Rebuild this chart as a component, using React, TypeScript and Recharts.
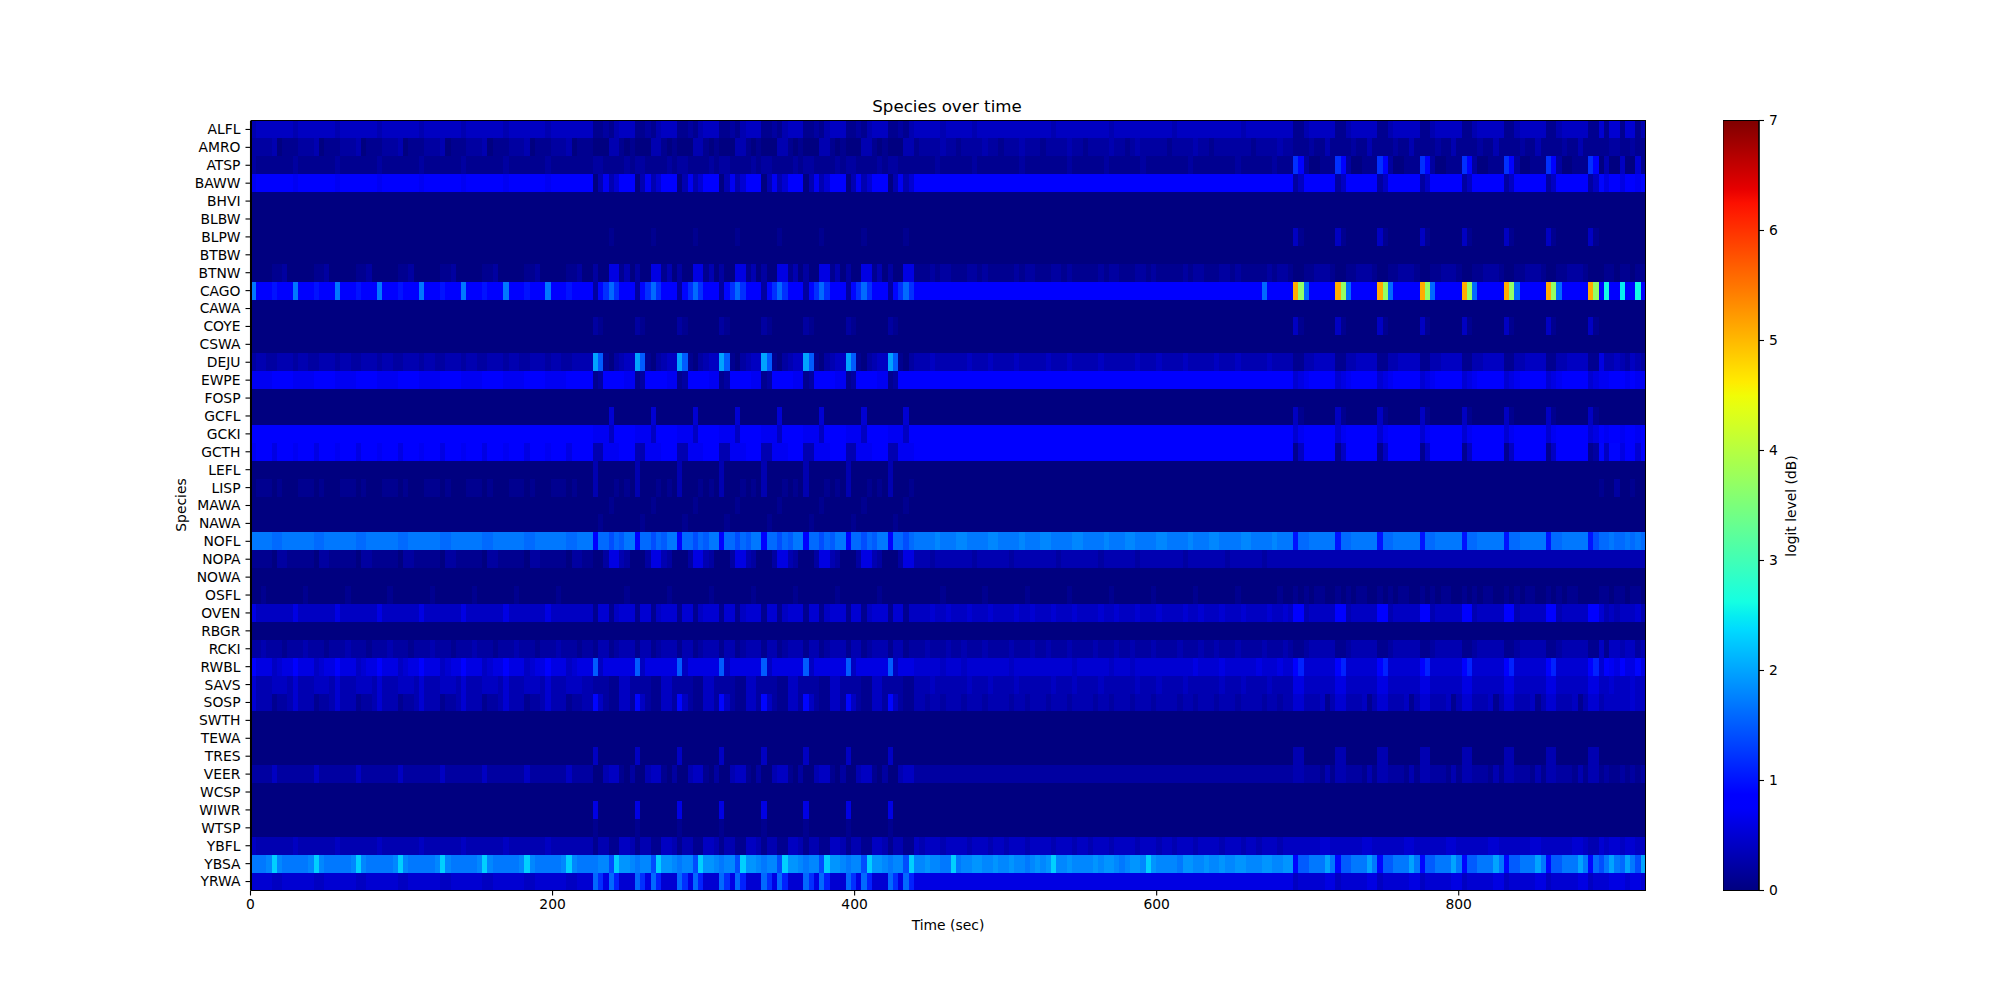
import React from "react";
import {
  BarChart,
  Bar,
  Scatter,
  ScatterChart,
  XAxis,
  YAxis,
} from "recharts";

const SPECIES = [
  "ALFL", "AMRO", "ATSP", "BAWW", "BHVI", "BLBW", "BLPW", "BTBW", "BTNW", "CAGO", "CAWA",
  "COYE", "CSWA", "DEJU", "EWPE", "FOSP", "GCFL", "GCKI", "GCTH", "LEFL", "LISP", "MAWA",
  "NAWA", "NOFL", "NOPA", "NOWA", "OSFL", "OVEN", "RBGR", "RCKI", "RWBL", "SAVS", "SOSP",
  "SWTH", "TEWA", "TRES", "VEER", "WCSP", "WIWR", "WTSP", "YBFL", "YBSA", "YRWA",
];

const TIME_TICKS = [0, 200, 400, 600, 800];
const LEVEL_TICKS = [0, 1, 2, 3, 4, 5, 6, 7];
const LAST_TIME = 924;
const COLUMN_COUNT = 265;

// one character per time column, position in LEVEL_CODES x 0.1 = logit level (dB)
const LEVEL_CODES = "0123456789abcdefghijklmnopqrstuvwxyzABCDEFGHIJKLMNOPQRS";

const QUIET = "00000000 00000000 00000000 00000000 00000000 00000000 00000000 00000000 0 00000000 00000000 00000000 00000000 00000000 00000000 00000000 00000 00000000 00000000 00000000 00000000 00000000 00000000 00000000 00000000 00000000 00000000 00000000 00000000 00000000 00000000 00000000 00000000 00000000000";

const ALFL = "34444444 34444444 34444444 34444444 34444444 34444444 34444444 34444444 4 11213444 11213444 11213444 11213444 11213444 11213444 11213444 11213 44444344 44434444 44444444 44344444 44444344 44444444 43444444 44444434 44444444 11344444 11344444 11344444 11344444 11344444 11344444 11344444 11515515513";
const AMRO = "22223011 12223011 12223011 12223011 12223011 12223011 12223011 12223011 1 00033101 00033101 00033101 00033101 00033101 00033101 00033101 00033 12222322 12222322 12223222 12222322 12222322 12322222 12222322 12222222 12222322 11121131 11121131 11121131 11121131 11121131 11121131 11121131 11112211211";
const ATSP = "21111111 21111111 21111111 21111111 21111111 21111111 21111111 21111111 1 22111121 22111121 22111121 22111121 22111121 22111121 22111121 22111 11112111 11121111 11112111 11111211 11112111 11121111 11112111 11111211 11112111 c8200111 c8200111 c8200111 c8200111 c8200111 c8200111 c8200111 c8030040051";
const BAWW = "78888888 78888888 78888888 78888888 78888888 78888888 78888888 78888888 8 03735888 03735888 03735888 03735888 03735888 03735888 03735888 03735 88888888 88888888 88888888 88888888 88888888 88888888 88888888 88888888 88888888 24888888 24888888 24888888 24888888 24888888 24888888 24888888 24968868879";
const BHVI = QUIET;
const BLBW = QUIET;
const BLPW = "00000000 00000000 00000000 00000000 00000000 00000000 00000000 00000000 0 00010000 00010000 00010000 00010000 00010000 00010000 00010000 00010 00000000 00000000 00000000 00000000 00000000 00000000 00000000 00000000 00000000 41000000 41000000 41000000 41000000 41000000 41000000 41000000 41000000000";
const BTBW = QUIET;
const BTNW = "00001120 00001120 00001120 00001120 00001120 00001120 00001120 00001120 0 20066130 20066130 20066130 20066130 20066130 20066130 20066130 20066 11121221 11221211 11121221 11221211 11121221 11221211 11121221 11221211 11121221 00112221 00112221 00112221 00112221 00112221 00112221 00112221 00011011011";
const CAGO = "h888a888 h888a888 h888a888 h888a888 h888a888 h888a888 h888a888 h888a888 8 29cgc888 29cgc888 29cgc888 29cgc888 29cgc888 29cgc888 29cgc888 29cgc 88888888 88888888 88888888 88888888 88888888 88888888 88888888 88888888 88g88888 PBg88888 PBg88888 PBg88888 PBg88888 PBg88888 PBg88888 PBg88888 PB8q88p88q8";
const CAWA = QUIET;
const COYE = "00000000 00000000 00000000 00000000 00000000 00000000 00000000 00000000 0 21000000 21000000 21000000 21000000 21000000 21000000 21000000 21000 00000000 00000000 00000000 00000000 00000000 00000000 00000000 00000000 00000000 41000000 41000000 41000000 41000000 41000000 41000000 41000000 41000000000";
const CSWA = QUIET;
const DEJU = "23322333 23322333 23322333 23322333 23322333 23322333 23322333 23322333 3 kf102344 kf102344 kf102344 kf102344 kf102344 kf102344 kf102344 kf102 33343333 33433343 33343333 34333433 33343333 33433343 33343333 34333433 33343333 11334444 11334444 11334444 11334444 11334444 11334444 11334444 11633432432";
const EWPE = "77778888 77778888 77778888 77778888 77778888 77778888 77778888 77778888 8 12888877 12888877 12888877 12888877 12888877 12888877 12888877 12888 88888888 88888888 88888888 88888888 88888888 88888888 88888888 88888888 88888888 56788888 56788888 56788888 56788888 56788888 56788888 56788888 56778887877";
const FOSP = QUIET;
const GCFL = "00000000 00000000 00000000 00000000 00000000 00000000 00000000 00000000 0 00050000 00050000 00050000 00050000 00050000 00050000 00050000 00050 00000000 00000000 00000000 00000000 00000000 00000000 00000000 00000000 00000000 41000000 41000000 41000000 41000000 41000000 41000000 41000000 41000000000";
const GCKI = "88888888 88888888 88888888 88888888 88888888 88888888 88888888 88888888 8 77748888 77748888 77748888 77748888 77748888 77748888 77748888 77748 88888888 88888888 88888888 88888888 88888888 88888888 88888888 88888888 88888888 57888888 57888888 57888888 57888888 57888888 57888888 57888888 56878878878";
const GCTH = "78886888 78886888 78886888 78886888 78886888 78886888 78886888 78886888 8 33777888 33777888 33777888 33777888 33777888 33777888 33777888 33777 88888888 88888888 88888888 88888888 88888888 88888888 88888888 88888888 88888888 14888888 14888888 14888888 14888888 14888888 14888888 14888888 12949968858";
const LEFL = "00000000 00000000 00000000 00000000 00000000 00000000 00000000 00000000 0 30000000 30000000 30000000 30000000 30000000 30000000 30000000 30000 00000000 00000000 00000000 00000000 00000000 00000000 00000000 00000000 00000000 00000000 00000000 00000000 00000000 00000000 00000000 00000000 00000000000";
const LISP = "01110100 01110100 01110100 01110100 01110100 01110100 01110100 01110100 0 30001010 30001010 30001010 30001010 30001010 30001010 30001010 30001 00000000 00000000 00000000 00000000 00000000 00000000 00000000 00000000 00000000 00000000 00000000 00000000 00000000 00000000 00000000 00000000 00100200100";
const MAWA = "00000000 00000000 00000000 00000000 00000000 00000000 00000000 00000000 0 00010000 00010000 00010000 00010000 00010000 00010000 00010000 00010 00000000 00000000 00000000 00000000 00000000 00000000 00000000 00000000 00000000 00000000 00000000 00000000 00000000 00000000 00000000 00000000 00000000000";
const NAWA = "00000000 00000000 00000000 00000000 00000000 00000000 00000000 00000000 0 01000000 01000000 01000000 01000000 01000000 01000000 01000000 01000 00000000 00000000 00000000 00000000 00000000 00000000 00000000 00000000 00000000 00000000 00000000 00000000 00000000 00000000 00000000 00000000 00000000000";
const NOFL = "hhhhgghh hhhhgghh hhhhgghh hhhhgghh hhhhgghh hhhhgghh hhhhgghh hhhhgghh h 8ggegfhh 8ggegfhh 8ggegfhh 8ggegfhh 8ggegfhh 8ggegfhh 8ggegfhh 8ggeg hhhhihhh iihhhhii hhhhihhh iihhhhii hhhhihhh iihhhhii hhhhihhh iihhhhii hhhhihhh agghhhhh agghhhhh agghhhhh agghhhhh agghhhhh agghhhhh agghhhhh aegghgghghg";
const NOPA = "11110221 11110221 11110221 11110221 11110221 11110221 11110221 11110221 1 00266320 00266320 00266320 00266320 00266320 00266320 00266320 00266 33323333 33323333 33233333 33323333 33323333 33233333 33323333 33323333 33233333 33333333 33333333 33333333 33333333 33333333 33333333 33333333 33333333333";
const NOWA = QUIET;
const OSFL = "00100000 00100000 00100000 00100000 00100000 00100000 00100000 00100000 0 00000010 00000010 00000010 00000010 00000010 00000010 00000010 00000 00000100 00000100 00000100 00000100 00000100 00000100 00000100 00000100 00000100 10101100 10101100 10101100 10101100 10101100 10101100 10101100 00110110110";
const OVEN = "64444444 64444444 64444444 64444444 64444444 64444444 64444444 64444444 4 15514555 15514555 15514555 15514555 15514555 15514555 15514555 15514 44454454 44544454 44454454 44544454 44454454 44544454 44454454 44544454 44454454 88344444 88344444 88344444 88344444 88344444 88344444 88344444 88534344453";
const RBGR = QUIET;
const RCKI = "22322212 22322212 22322212 22322212 22322212 22322212 22322212 22322212 2 13312333 13312333 13312333 13312333 13312333 13312333 13312333 13312 22322232 23222322 22322232 23222322 22322232 23222322 22322232 23222322 22322232 11233333 11233333 11233333 11233333 11233333 11233333 11233333 11414434423";
const RWBL = "86664566 86664566 86664566 86664566 86664566 86664566 86664566 86664566 6 f4666666 f4666666 f4666666 f4666666 f4666666 f4666666 f4666666 f4666 55555455 54555555 55455555 55555545 55555455 54555555 55555655 55655555 56555655 8b555555 8b555555 8b555555 8b555555 8b555555 8b555555 8b555555 8b587686696";
const SAVS = "53334443 53334443 53334443 53334443 53334443 53334443 53334443 53334443 3 22211442 22211442 22211442 22211442 22211442 22211442 22211442 22211 33343333 33433343 33343333 33433343 33343333 33433343 33343333 33433343 33343333 66444444 66444444 66444444 66444444 66444444 66444444 66444444 66445444544";
const SOSP = "53331223 53331223 53331223 53331223 53331223 53331223 53331223 53331223 3 94211442 94211442 94211442 94211442 94211442 94211442 94211442 94211 33233233 32333233 33233233 32333233 33233233 32333233 33233233 32333233 33233233 55333413 55333413 55333413 55333413 55333413 55333413 55333413 55344444544";
const SWTH = QUIET;
const TEWA = QUIET;
const TRES = "00000000 00000000 00000000 00000000 00000000 00000000 00000000 00000000 0 40000000 40000000 40000000 40000000 40000000 40000000 40000000 40000 00000000 00000000 00000000 00000000 00000000 00000000 00000000 00000000 00000000 33000000 33000000 33000000 33000000 33000000 33000000 33000000 33000000000";
const VEER = "22224222 22224222 22224222 22224222 22224222 22224222 22224222 22224222 2 00344102 00344102 00344102 00344102 00344102 00344102 00344102 00344 22222222 22222222 22222222 22222222 22222222 22222222 22222222 22222222 22222222 33222131 33222131 33222131 33222131 33222131 33222131 33222131 33121121212";
const WCSP = QUIET;
const WIWR = "00000000 00000000 00000000 00000000 00000000 00000000 00000000 00000000 0 60000000 60000000 60000000 60000000 60000000 60000000 60000000 60000 00000000 00000000 00000000 00000000 00000000 00000000 00000000 00000000 00000000 00000000 00000000 00000000 00000000 00000000 00000000 00000000 00000000000";
const WTSP = "00000000 00000000 00000000 00000000 00000000 00000000 00000000 00000000 0 10000000 10000000 10000000 10000000 10000000 10000000 10000000 10000 00000000 00000000 00000000 00000000 00000000 00000000 00000000 00000000 00000000 00000000 00000000 00000000 00000000 00000000 00000000 00000000 00000000000";
const YBFL = "43333333 43333333 43333333 43333333 43333333 43333333 43333333 43333333 3 13311443 13311443 13311443 13311443 13311443 13311443 13311443 13311 43444344 44344434 43444344 44344434 43444344 44344434 43444344 44344434 43444344 44444554 44444554 44444554 44444554 44444554 44444554 44444554 33545545544";
const YBSA = "hhhinihh hhhinihh hhhinihh hhhinihh hhhinihh hhhinihh hhhinihh hhhinihh h hiienjji hiienjji hiienjji hiienjji hiienjji hiienjji hiienjji hiien iijiihhn hiijjiij iijiihij ijniijii iijijjih ijjinjii iihjjiij iijiijji iijjiijj 9ffhhhkh 9ffhhhkh 9ffhhhkh 9ffhhhkh 9ffhhhkh 9ffhhhkh 9ffhhhkh 9gehkhgkhek";
const YRWA = "55554455 55554455 55554455 55554455 55554455 55554455 55554455 55554455 5 gc6gb555 gc6gb555 gc6gb555 gc6gb555 gc6gb555 gc6gb555 gc6gb555 gc6gb 66666666 66666666 66666666 66666666 66666666 66666666 66666666 66666666 66666666 45555566 45555566 45555566 45555566 45555566 45555566 45555566 45556665665";

const ROWS = [
  ALFL, AMRO, ATSP, BAWW, BHVI, BLBW, BLPW, BTBW, BTNW, CAGO, CAWA, COYE, CSWA, DEJU, EWPE,
  FOSP, GCFL, GCKI, GCTH, LEFL, LISP, MAWA, NAWA, NOFL, NOPA, NOWA, OSFL, OVEN, RBGR, RCKI,
  RWBL, SAVS, SOSP, SWTH, TEWA, TRES, VEER, WCSP, WIWR, WTSP, YBFL, YBSA, YRWA,
];

const COLUMN_SECONDS = LAST_TIME / COLUMN_COUNT;

const cells = ROWS.flatMap((row, rowIndex) =>
  row
    .replace(/ /g, "")
    .split("")
    .map((code, column) => ({
      time: (column + 0.5) * COLUMN_SECONDS,
      row: rowIndex,
      level: LEVEL_CODES.indexOf(code) * 0.1,
    }))
);

const PLOT_WIDTH = 1395.5;
const PLOT_HEIGHT = 770;
const FONT = "'DejaVu Sans'";
const FONT_SIZE = 13.89;

// matplotlib jet
const JET = {
  r: [[0, 0], [0.35, 0], [0.66, 1], [0.89, 1], [1, 0.5]],
  g: [[0, 0], [0.125, 0], [0.375, 1], [0.64, 1], [0.91, 0], [1, 0]],
  b: [[0, 0.5], [0.11, 1], [0.34, 1], [0.65, 0], [1, 0]],
};

function channel(stops: number[][], x: number) {
  for (let i = 1; i < stops.length; i++) {
    if (x <= stops[i][0]) {
      const [x0, y0] = stops[i - 1];
      const [x1, y1] = stops[i];
      return Math.round((y0 + ((y1 - y0) * (x - x0)) / (x1 - x0)) * 255);
    }
  }
  return 0;
}

function jet(level: number) {
  const x = Math.min(1, level / 7);
  return `rgb(${channel(JET.r, x)},${channel(JET.g, x)},${channel(JET.b, x)})`;
}

const GRADIENT_STOPS = Array.from({ length: 57 }, (_, i) => i / 56);

function HeatCell({ cx, cy, payload }: any) {
  const w = PLOT_WIDTH / COLUMN_COUNT;
  const h = PLOT_HEIGHT / SPECIES.length;
  const x0 = Math.round(cx - w / 2);
  const y0 = Math.round(cy - h / 2);
  return (
    <rect
      x={x0}
      y={y0}
      width={Math.round(cx + w / 2) - x0}
      height={Math.round(cy + h / 2) - y0}
      fill={jet(payload.level)}
      shapeRendering="crispEdges"
    />
  );
}

const tickStyle = { fontSize: FONT_SIZE, fontFamily: FONT, fill: "#000" };
const lineStyle = { stroke: "#000", strokeWidth: 1.1 };

export default function App() {
  return (
    <div style={{ position: "absolute", left: 0, top: 0, width: 2000, height: 1000, background: "#fff" }}>
      <div style={{ position: "absolute", left: 0, top: 0 }}>
        <ScatterChart
          width={2000}
          height={1000}
          margin={{ top: 120.5, right: 354, bottom: 49.5, left: 150.5 }}
        >
          <XAxis
            type="number"
            dataKey="time"
            domain={[0, LAST_TIME]}
            ticks={TIME_TICKS}
            height={60}
            tick={tickStyle}
            tickSize={5}
            tickMargin={4}
            axisLine={lineStyle}
            tickLine={lineStyle}
            allowDataOverflow
          />
          <YAxis
            type="number"
            dataKey="row"
            reversed
            domain={[-0.5, SPECIES.length - 0.5]}
            ticks={SPECIES.map((_, i) => i)}
            tickFormatter={(i: number) => SPECIES[i]}
            interval={0}
            width={100}
            tick={tickStyle}
            tickSize={5}
            tickMargin={5}
            axisLine={lineStyle}
            tickLine={lineStyle}
            allowDataOverflow
          />
          <Scatter data={cells} shape={HeatCell} isAnimationActive={false} />
        </ScatterChart>
      </div>
      <div style={{ position: "absolute", left: 250.5, top: 120, width: 1395.5, height: 770.5, boxSizing: "border-box", border: "1px solid #000", pointerEvents: "none" }} />
      <div style={{ position: "absolute", left: 1723, top: 0 }}>
        <BarChart
          width={200}
          height={1000}
          data={[{ name: "level", top: 7 }]}
          margin={{ top: 120.5, right: 0, bottom: 109.5, left: 0 }}
          barCategoryGap={0}
        >
          <defs>
            <linearGradient id="jet" x1="0" y1="1" x2="0" y2="0">
              {GRADIENT_STOPS.map((s) => (
                <stop key={s} offset={s} stopColor={jet(s * 7)} />
              ))}
            </linearGradient>
          </defs>
          <XAxis dataKey="name" hide />
          <YAxis
            orientation="right"
            type="number"
            domain={[0, 7]}
            ticks={LEVEL_TICKS}
            interval={0}
            width={164}
            tick={tickStyle}
            tickSize={5}
            tickMargin={5}
            axisLine={lineStyle}
            tickLine={lineStyle}
          />
          <Bar dataKey="top" fill="url(#jet)" stroke="#000" strokeWidth={1.1} isAnimationActive={false} />
        </BarChart>
      </div>
      <svg width={2000} height={1000} style={{ position: "absolute", left: 0, top: 0, pointerEvents: "none" }}>
        <text x={947} y={112} textAnchor="middle" fontFamily={FONT} fontSize={16.67} fill="#000">
          Species over time
        </text>
        <text x={948} y={930} textAnchor="middle" fontFamily={FONT} fontSize={FONT_SIZE} fill="#000">
          Time (sec)
        </text>
        <text transform="translate(186,505) rotate(-90)" textAnchor="middle" fontFamily={FONT} fontSize={FONT_SIZE} fill="#000">
          Species
        </text>
        <text transform="translate(1796,506) rotate(-90)" textAnchor="middle" fontFamily={FONT} fontSize={FONT_SIZE} fill="#000">
          logit level (dB)
        </text>
      </svg>
    </div>
  );
}
